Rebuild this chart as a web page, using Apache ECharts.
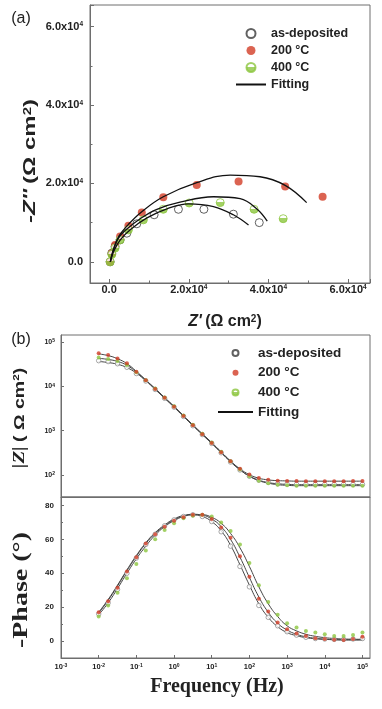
<!DOCTYPE html>
<html><head><meta charset="utf-8">
<script src="https://cdn.jsdelivr.net/npm/echarts@6/dist/echarts.min.js"></script>
<style>html,body{margin:0;padding:0;background:#fff}#c{width:382px;height:709px}</style>
</head><body><div id="c"></div>
<script>
// ---------- Panel (a): Nyquist data (Ω cm²) ----------
const nyqAsDepX = [250, 670, 1500, 2760, 4440, 6950, 11300, 17400, 23800, 31200, 37700];
const nyqAsDepY = [0, 2200, 3900, 5600, 7300, 9700, 12000, 13400, 13400, 12150, 10000];
const nyq200X = [250, 670, 1500, 2760, 4840, 8200, 13600, 22000, 32500, 44200, 53600];
const nyq200Y = [0, 2200, 4300, 6450, 9200, 12600, 16500, 19600, 20500, 19200, 16600];
const nyq400X = [250, 670, 1500, 2760, 4840, 8600, 13600, 20100, 27900, 36400, 43700];
const nyq400Y = [0, 1900, 3500, 5600, 8150, 10700, 13400, 15000, 15100, 13400, 11000];
const fitAsDepX = [300, 1100, 2800, 5300, 9500, 14500, 19900, 26200, 31200, 35000];
const fitAsDepY = [0, 2600, 5600, 8200, 11200, 13500, 14800, 14100, 12000, 9400];
const fit200X = [300, 1100, 2500, 4800, 8200, 13600, 22000, 30400, 37900, 44200, 49600];
const fit200Y = [0, 3300, 6600, 9500, 12800, 16600, 20200, 22100, 21700, 19500, 15100];
const fit400X = [300, 1100, 2300, 4400, 7800, 12000, 17800, 26200, 32900, 37100, 39700];
const fit400Y = [0, 3000, 6000, 8300, 11000, 13400, 15200, 16600, 16100, 13500, 10400];

// ---------- Panel (b): Bode data ----------
const freqHz = [0.01,0.0178,0.0316,0.0562,0.1,0.178,0.316,0.562,1,1.78,3.16,5.62,10,17.8,31.6,56.2,100,178,316,562,1000,1780,3160,5620,10000,17800,31600,56200,100000];
const zAsDep = [38000,36300,32400,26900,19500,13200,8510,5370,3390,2090,1290,813,513,316,195,129,93,76,68,63,62,61,61,61,61,61,61,61,61];
const z200 = [56200,51300,42700,33100,21400,13800,8710,5500,3470,2140,1320,832,525,324,204,138,102,85,78,74,73,73,72,72,72,72,72,73,73];
const z400 = [44700,41700,37200,30200,20900,13800,8910,5620,3550,2190,1350,851,537,331,204,132,93,74,65,60,58,57,57,57,57,57,57,57,57];
const zFitAsDep = [36500,34500,31500,26500,19800,13300,8500,5350,3380,2080,1290,810,510,315,196,130,94,76,67,63,61,60,60,60,60,60,60,60,60];
const zFit200 = [54000,49500,42000,32500,21800,13900,8750,5500,3470,2140,1320,832,524,323,204,137,101,84,77,74,73,72,72,72,72,72,72,72,72];
const zFit400 = [43000,40500,36500,29800,21000,13800,8900,5600,3540,2180,1350,850,536,330,204,131,93,74,65,60,58,57,57,57,57,57,57,57,57];
const phAsDep = [16,22.5,30.5,40,49,57,63,68,71.5,73.5,74.5,73.5,70.5,64.5,56,44,32,21,14,9,5.5,3.5,2.2,1.5,1.2,1,1,1.2,1.5];
const ph200 = [17,23.5,31.5,41,49.5,57.5,63,67.5,71,73,74.5,74.5,72,67,61,50,38,25,17.5,11,7,4.5,3,1.7,1.2,0.7,0.6,1.2,2.5];
const ph400 = [14.5,21,28.5,37,45.5,53.5,60,65.5,69.5,72.5,74,74.5,73.5,70,65,57,46,33,23,15.5,10.5,8,6,5,4,3,3,3.5,5];
const phFitAsDep = [17,24.5,33,42,50.5,58,64,68.5,72,74,74.5,73.5,70.5,65,56.5,45,33,22,14,8.5,5,3.2,2,1.4,1,0.8,0.7,0.7,0.7];
const phFit200 = [16.5,24,32.5,41.5,50,57.5,63.5,68,71.5,73.8,74.8,74.3,72,67.5,60,49.5,37.5,26,17,10.5,6.5,4,2.5,1.6,1.1,0.8,0.7,0.7,0.7];
const phFit400 = [15.5,22.5,31,40,48.5,56,62.5,67.5,71,73.5,74.5,74.5,73,69.5,63.5,55,44,32,22,14.5,9,6,4,2.8,2,1.5,1.2,1.1,1];

const seriesNames = ['as-deposited', '200 °C', '400 °C', 'Fitting'];
const panelLabels = ['(a)', '(b)'];

// ---------- styles ----------
const SANS = 'Liberation Sans';
const SERIF = 'Liberation Serif';
const FRAME = '#6e6e6e';
const RED = '#d23c26';
const GREEN = '#8cc63f';
const halfGreen = {type:'linear', x:0, y:0, x2:0, y2:1, colorStops:[
  {offset:0, color:'#ffffff'}, {offset:0.45, color:'#ffffff'},
  {offset:0.45, color:GREEN}, {offset:1, color:GREEN}]};
const zip = (xs, ys) => xs.map((x, i) => [x, ys[i]]);

const supRich = (base, sup) => ({
  m: {fontFamily:SANS, fontWeight:'bold', fontSize:base, color:'#222'},
  s: {fontFamily:SANS, fontWeight:'bold', fontSize:sup, color:'#222', verticalAlign:'top', lineHeight:sup}
});
const pow10Label = v => '{m|10}{s|' + Math.round(Math.log10(v)) + '}';
const nyqLabel = v => v === 0 ? '{m|0.0}' : '{m|' + (v/1e4).toFixed(1) + 'x10}{s|4}';
const legendData = seriesNames.map(n => n === 'Fitting'
  ? {name:n, itemStyle:{color:'rgba(0,0,0,0)', borderWidth:0, opacity:0}} : {name:n});

const chart = echarts.init(document.getElementById('c'), null, {renderer:'canvas'});

const axisBase = {
  axisLine:{onZero:false, lineStyle:{color:FRAME}}, splitLine:{show:false}
};

const option = {
  animation: false,
  backgroundColor: '#fff',
  grid: [
    {left:90, top:5, width:280, height:278, show:true, borderColor:FRAME, borderWidth:1, outerBoundsMode:'none'},
    {left:61, top:335, width:309, height:162, show:true, borderColor:FRAME, borderWidth:1, outerBoundsMode:'none'},
    {left:61, top:497, width:309, height:161, show:true, borderColor:FRAME, borderWidth:1, outerBoundsMode:'none'}
  ],
  xAxis: [
    Object.assign({gridIndex:0, type:'value', min:-4800, max:65500, splitNumber:3,
     axisTick:{inside:true, length:4, lineStyle:{color:FRAME}},
     minorTick:{show:true, splitNumber:2, length:2.5, lineStyle:{color:FRAME}},
     axisLabel:{showMinLabel:false, showMaxLabel:false, margin:1, formatter:nyqLabel, rich:supRich(11, 6.5)}}, axisBase),
    Object.assign({gridIndex:1, type:'log', logBase:10, min:0.001, max:158489,
     axisTick:{show:false}, axisLabel:{show:false}}, axisBase),
    Object.assign({gridIndex:2, type:'log', logBase:10, min:0.001, max:158489,
     axisTick:{inside:true, length:3, lineStyle:{color:FRAME}},
     axisLabel:{showMaxLabel:false, margin:5, formatter:pow10Label, rich:supRich(7.5, 5)}}, axisBase)
  ],
  yAxis: [
    Object.assign({gridIndex:0, type:'value', min:-5400, max:65500, splitNumber:3,
     axisTick:{inside:true, length:4, lineStyle:{color:FRAME}},
     minorTick:{show:true, splitNumber:2, length:2.5, lineStyle:{color:FRAME}},
     axisLabel:{showMinLabel:false, showMaxLabel:false, margin:7, formatter:nyqLabel, rich:supRich(11, 6.5)}}, axisBase),
    Object.assign({gridIndex:1, type:'log', logBase:10, min:31.6, max:144544,
     axisTick:{inside:true, length:3, lineStyle:{color:FRAME}},
     axisLabel:{showMinLabel:false, showMaxLabel:false, margin:6, formatter:pow10Label, rich:supRich(7, 5)}}, axisBase),
    Object.assign({gridIndex:2, type:'value', min:-10, max:85, splitNumber:5,
     axisTick:{inside:true, length:3, lineStyle:{color:FRAME}},
     minorTick:{show:true, splitNumber:2, length:2, lineStyle:{color:FRAME}},
     axisLabel:{showMinLabel:false, showMaxLabel:false, margin:7,
       fontFamily:SANS, fontWeight:'bold', fontSize:8, color:'#222'}}, axisBase)
  ],
  legend: [
    {orient:'vertical', left:235, top:27, padding:0, itemWidth:30, itemHeight:9, itemGap:4,
     selectedMode:false, data:legendData,
     textStyle:{fontFamily:SANS, fontWeight:'bold', fontSize:12.5, color:'#222'}},
    {orient:'vertical', left:217, top:346, padding:0, itemWidth:35, itemHeight:6, itemGap:5.7,
     selectedMode:false, data:legendData,
     textStyle:{fontFamily:SANS, fontWeight:'bold', fontSize:13.5, color:'#222'}}
  ],
  graphic: [
    {type:'text', x:21, y:19, style:{text:panelLabels[0], font:'16px ' + SANS, fill:'#222', align:'center', verticalAlign:'middle'}},
    {type:'text', x:21, y:340, style:{text:panelLabels[1], font:'16px ' + SANS, fill:'#222', align:'center', verticalAlign:'middle'}},
    {type:'text', x:31, y:161, rotation:Math.PI/2, scaleX:1.5,
     style:{text:"{i|-Z''} {n|(Ω cm}{s|2}{n|)}", align:'center', verticalAlign:'middle',
       rich:{i:{fontFamily:SANS, fontWeight:'bold', fontStyle:'italic', fontSize:16, fill:'#222'},
             n:{fontFamily:SANS, fontWeight:'bold', fontSize:16, fill:'#222'},
             s:{fontFamily:SANS, fontWeight:'bold', fontSize:10, fill:'#222', verticalAlign:'top', lineHeight:10}}}},
    {type:'text', x:225, y:322,
     style:{text:"{i|Z'} {n|(Ω cm}{s|2}{n|)}", align:'center', verticalAlign:'middle',
       rich:{i:{fontFamily:SANS, fontWeight:'bold', fontStyle:'italic', fontSize:16, fill:'#222'},
             n:{fontFamily:SANS, fontWeight:'bold', fontSize:16, fill:'#222'},
             s:{fontFamily:SANS, fontWeight:'bold', fontSize:10, fill:'#222', verticalAlign:'top', lineHeight:10}}}},
    {type:'text', x:20, y:418, rotation:Math.PI/2, scaleX:1.3,
     style:{text:"{i||Z|} {n|( Ω cm}{s|2}{n|)}", align:'center', verticalAlign:'middle',
       rich:{i:{fontFamily:SERIF, fontWeight:'bold', fontStyle:'italic', fontSize:16, fill:'#222'},
             n:{fontFamily:SANS, fontWeight:'bold', fontSize:15, fill:'#222'},
             s:{fontFamily:SANS, fontWeight:'bold', fontSize:9, fill:'#222', verticalAlign:'top', lineHeight:9}}}},
    {type:'text', x:22, y:590, rotation:Math.PI/2, scaleX:1.4,
     style:{text:'-Phase (°)', font:'bold 20px ' + SERIF, fill:'#222', align:'center', verticalAlign:'middle'}},
    {type:'text', x:217, y:687,
     style:{text:'Frequency (Hz)', font:'bold 20px ' + SERIF, fill:'#222', align:'center', verticalAlign:'middle'}}
  ],
  series: [
    // panel (a)
    {name:seriesNames[0], type:'scatter', xAxisIndex:0, yAxisIndex:0, symbolSize:8, z:3,
     itemStyle:{color:'#fff', borderColor:'#3a3a3a', borderWidth:1}, data:zip(nyqAsDepX, nyqAsDepY)},
    {name:seriesNames[1], type:'scatter', xAxisIndex:0, yAxisIndex:0, symbolSize:8, z:3,
     itemStyle:{color:RED}, data:zip(nyq200X, nyq200Y)},
    {name:seriesNames[2], type:'scatter', xAxisIndex:0, yAxisIndex:0, symbolSize:8, z:3,
     itemStyle:{color:halfGreen, borderColor:GREEN, borderWidth:1}, data:zip(nyq400X, nyq400Y)},
    {name:seriesNames[3], type:'line', xAxisIndex:0, yAxisIndex:0, smooth:0.4, symbol:'none', z:4,
     itemStyle:{color:'#111'}, lineStyle:{color:'#111', width:1.3}, data:zip(fitAsDepX, fitAsDepY)},
    {name:seriesNames[3], type:'line', xAxisIndex:0, yAxisIndex:0, smooth:0.4, symbol:'none', z:4,
     itemStyle:{color:'#111'}, lineStyle:{color:'#111', width:1.3}, data:zip(fit200X, fit200Y)},
    {name:seriesNames[3], type:'line', xAxisIndex:0, yAxisIndex:0, smooth:0.4, symbol:'none', z:4,
     itemStyle:{color:'#111'}, lineStyle:{color:'#111', width:1.3}, data:zip(fit400X, fit400Y)},
    // panel (b) |Z|
    {name:seriesNames[3], type:'line', xAxisIndex:1, yAxisIndex:1, smooth:true, symbol:'none', z:2,
     lineStyle:{color:'#444', width:1}, data:zip(freqHz, zFitAsDep)},
    {name:seriesNames[3], type:'line', xAxisIndex:1, yAxisIndex:1, smooth:true, symbol:'none', z:2,
     lineStyle:{color:'#444', width:1}, data:zip(freqHz, zFit200)},
    {name:seriesNames[3], type:'line', xAxisIndex:1, yAxisIndex:1, smooth:true, symbol:'none', z:2,
     lineStyle:{color:'#444', width:1}, data:zip(freqHz, zFit400)},
    {name:seriesNames[0], type:'scatter', xAxisIndex:1, yAxisIndex:1, symbolSize:4.5, z:3,
     itemStyle:{color:'#fff', borderColor:'#777', borderWidth:0.8}, data:zip(freqHz, zAsDep)},
    {name:seriesNames[2], type:'scatter', xAxisIndex:1, yAxisIndex:1, symbolSize:4, z:3,
     itemStyle:{color:GREEN}, data:zip(freqHz, z400)},
    {name:seriesNames[1], type:'scatter', xAxisIndex:1, yAxisIndex:1, symbolSize:4, z:3,
     itemStyle:{color:RED}, data:zip(freqHz, z200)},
    // panel (b) phase
    {name:seriesNames[3], type:'line', xAxisIndex:2, yAxisIndex:2, smooth:true, symbol:'none', z:2,
     lineStyle:{color:'#444', width:1}, data:zip(freqHz, phFitAsDep)},
    {name:seriesNames[3], type:'line', xAxisIndex:2, yAxisIndex:2, smooth:true, symbol:'none', z:2,
     lineStyle:{color:'#444', width:1}, data:zip(freqHz, phFit200)},
    {name:seriesNames[3], type:'line', xAxisIndex:2, yAxisIndex:2, smooth:true, symbol:'none', z:2,
     lineStyle:{color:'#444', width:1}, data:zip(freqHz, phFit400)},
    {name:seriesNames[0], type:'scatter', xAxisIndex:2, yAxisIndex:2, symbolSize:4.5, z:3,
     itemStyle:{color:'#fff', borderColor:'#777', borderWidth:0.8}, data:zip(freqHz, phAsDep)},
    {name:seriesNames[2], type:'scatter', xAxisIndex:2, yAxisIndex:2, symbolSize:4, z:3,
     itemStyle:{color:GREEN}, data:zip(freqHz, ph400)},
    {name:seriesNames[1], type:'scatter', xAxisIndex:2, yAxisIndex:2, symbolSize:4, z:3,
     itemStyle:{color:RED}, data:zip(freqHz, ph200)}
  ]
};
chart.setOption(option);
</script></body></html>
